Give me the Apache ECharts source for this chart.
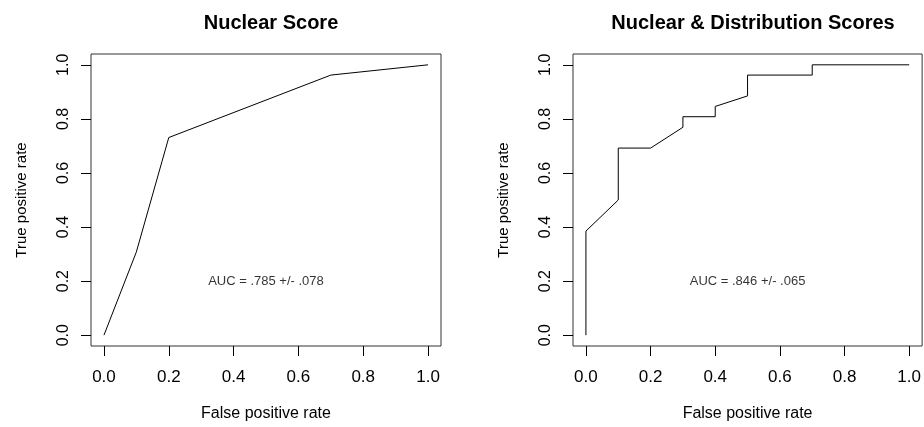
<!DOCTYPE html>
<html>
<head>
<meta charset="utf-8">
<script src="https://cdn.jsdelivr.net/npm/echarts@6/dist/echarts.min.js"></script>
<style>
html,body{margin:0;padding:0;background:#fff;}
#c{width:924px;height:427px;}
</style>
</head>
<body>
<div id="c"></div>
<script>
// ---- data ----
var panelTitles = ['Nuclear Score', 'Nuclear & Distribution Scores'];
var xAxisTitle = 'False positive rate';
var yAxisTitle = 'True positive rate';
var tickValues = [0, 0.2, 0.4, 0.6, 0.8, 1.0];
var nuclearFpr = [0, 0.1, 0.2, 0.7, 1.0];
var nuclearTpr = [0, 0.308, 0.731, 0.962, 1.0];
var combinedFpr = [0, 0, 0.1, 0.1, 0.2, 0.3, 0.3, 0.4, 0.4, 0.5, 0.5, 0.7, 0.7, 1.0];
var combinedTpr = [0, 0.385, 0.5, 0.692, 0.692, 0.769, 0.808, 0.808, 0.846, 0.885, 0.962, 0.962, 1.0, 1.0];
var aucLabels = ['AUC = .785 +/- .078', 'AUC = .846 +/- .065'];
var aucPos = [[0.5, 0.2], [0.5, 0.2]];

var FONT = '"Liberation Sans", Arial, Helvetica, sans-serif';
var grids = [
  {left: 91, top: 54, width: 350, height: 297},
  {left: 573, top: 54, width: 350, height: 297}
];

function zip(a, b) { return a.map(function (v, i) { return [v, b[i]]; }); }

function xAxis(i) {
  return {
    type: 'value', gridIndex: i, min: -0.04, max: 1.04, position: 'bottom',
    splitLine: {show: false},
    axisLine: {show: false, onZero: false},
    axisTick: {show: true, inside: false, length: 10, customValues: tickValues, lineStyle: {color: '#000', width: 1}},
    axisLabel: {show: true, customValues: tickValues, margin: 23, fontSize: 17, color: '#000', fontFamily: FONT,
      formatter: function (v) { return v.toFixed(1); }},
    name: xAxisTitle, nameLocation: 'middle', nameGap: 60,
    nameTextStyle: {fontSize: 16, color: '#000', fontFamily: FONT}
  };
}
function yAxis(i) {
  return {
    type: 'value', gridIndex: i, min: -0.04, max: 1.04, position: 'left',
    splitLine: {show: false},
    axisLine: {show: false, onZero: false},
    axisTick: {show: true, inside: false, length: 10, customValues: tickValues, lineStyle: {color: '#000', width: 1}},
    axisLabel: {show: true, customValues: tickValues, rotate: 90, margin: 19, fontSize: 16, color: '#000', fontFamily: FONT,
      formatter: function (v) { return v.toFixed(1); }},
    name: yAxisTitle, nameLocation: 'middle', nameGap: 62, nameRotate: 90,
    nameTextStyle: {fontSize: 15, color: '#000', fontFamily: FONT}
  };
}

var series = [
  {type: 'line', xAxisIndex: 0, yAxisIndex: 0, data: zip(nuclearFpr, nuclearTpr), showSymbol: false, symbol: 'none',
   lineStyle: {color: '#000', width: 1}, silent: true},
  {type: 'line', xAxisIndex: 1, yAxisIndex: 1, data: zip(combinedFpr, combinedTpr), showSymbol: false, symbol: 'none',
   lineStyle: {color: '#000', width: 1}, silent: true}
];
[0, 1].forEach(function (i) {
  series.push({
    type: 'scatter', xAxisIndex: i, yAxisIndex: i, data: [aucPos[i]], symbolSize: 0, silent: true,
    label: {show: true, position: 'inside', formatter: aucLabels[i], fontSize: 13, color: '#000', fontFamily: FONT}
  });
});

var option = {
  animation: false,
  backgroundColor: '#fff',
  title: [0, 1].map(function (i) {
    return {text: panelTitles[i], left: grids[i].left + grids[i].width / 2, top: 8, textAlign: 'center',
      textStyle: {fontSize: 20, fontWeight: 'bold', color: '#000', fontFamily: FONT}};
  }),
  grid: grids.map(function (g) {
    return {left: g.left, top: g.top, width: g.width, height: g.height, show: true, borderColor: '#333', borderWidth: 1,
      backgroundColor: 'transparent', containLabel: false};
  }),
  xAxis: [xAxis(0), xAxis(1)],
  yAxis: [yAxis(0), yAxis(1)],
  series: series
};

var chart = echarts.init(document.getElementById('c'));
chart.setOption(option);
</script>
</body>
</html>
